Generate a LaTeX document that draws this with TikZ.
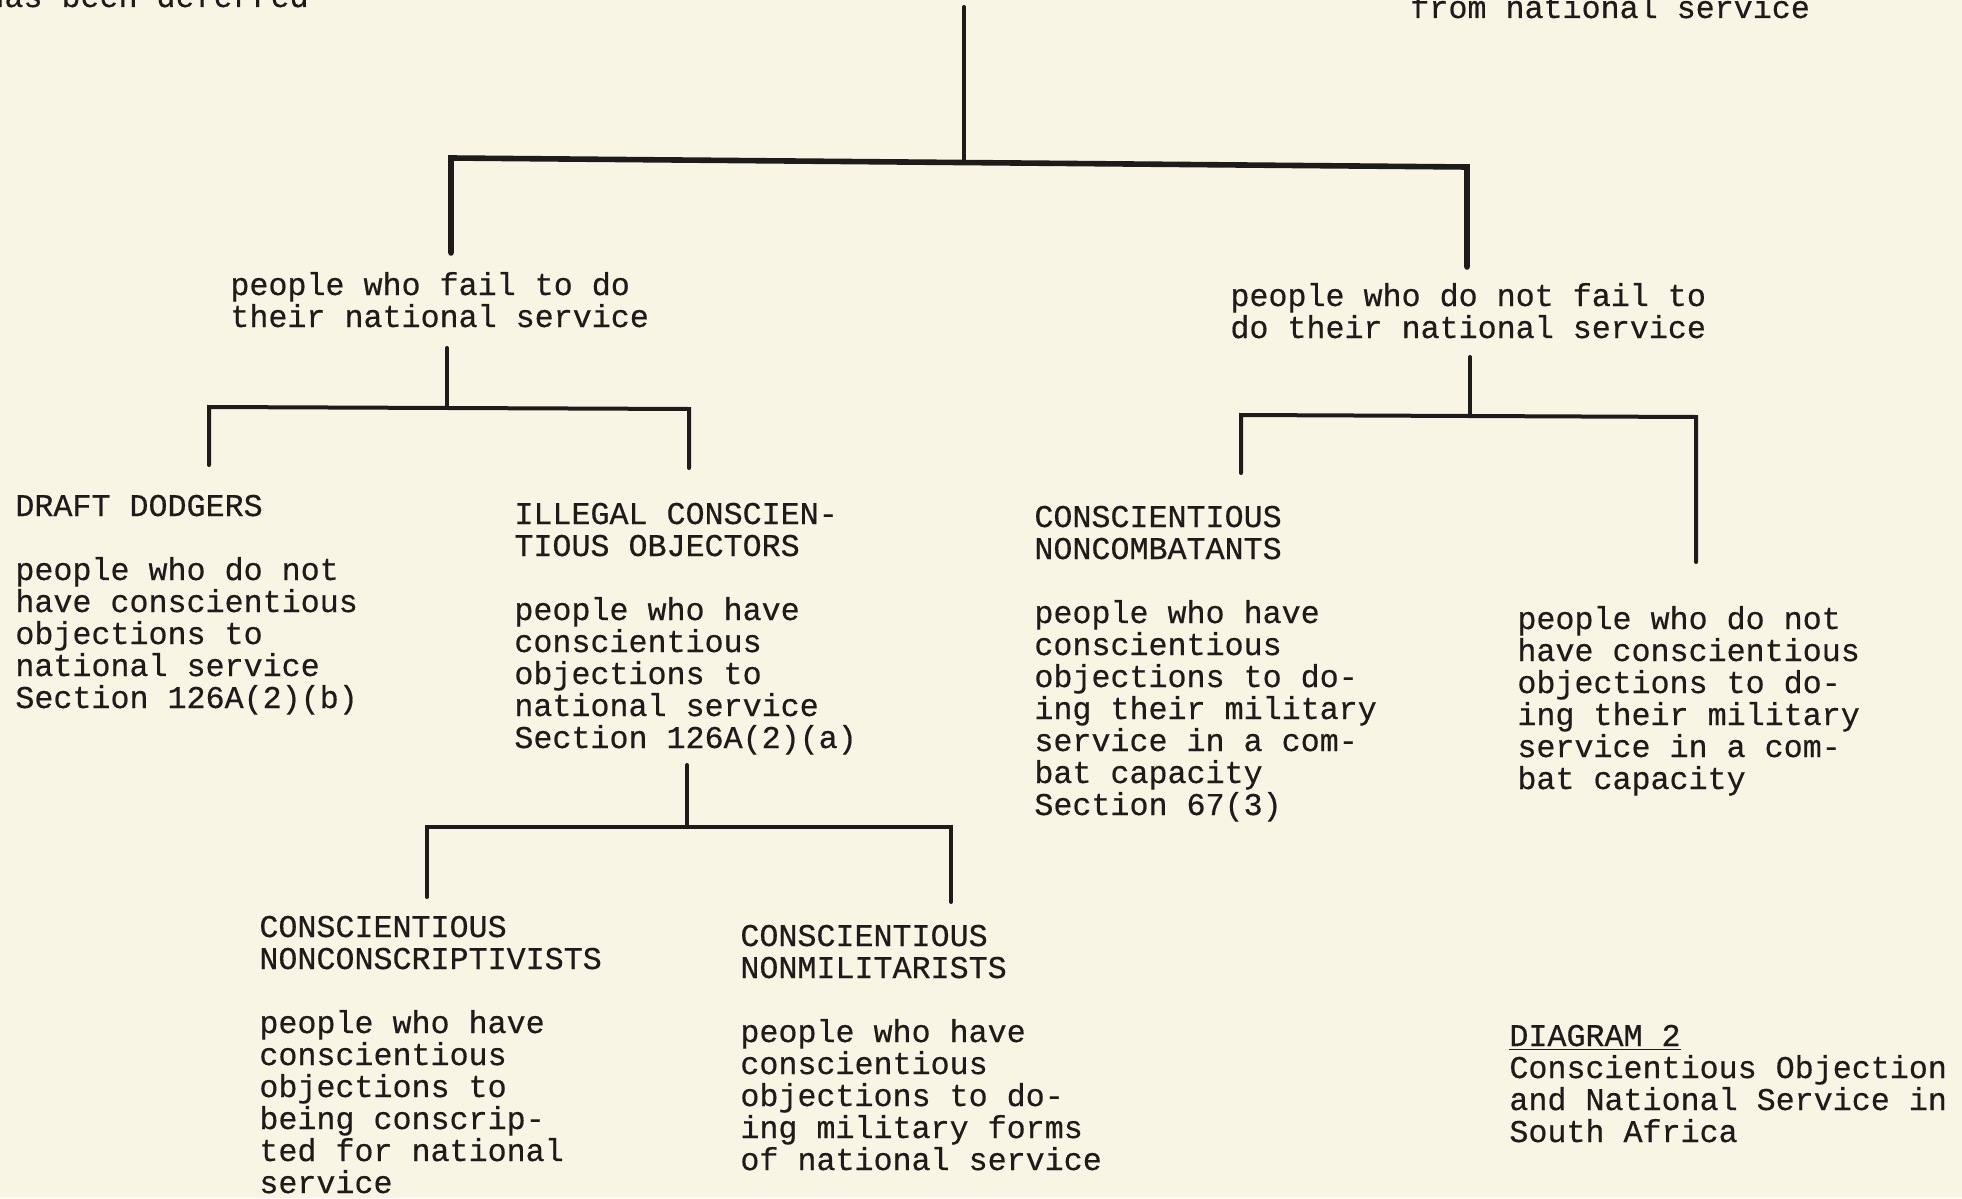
\documentclass[tikz,border=0pt]{standalone}
\usepackage{fontspec}
\newfontfamily\typewriter{Liberation Mono}[FakeBold=0.5]
\usetikzlibrary{positioning}
\definecolor{PaperCream}{RGB}{248,245,229}
\definecolor{TypeInk}{RGB}{30,28,26}

\tikzset{
  typed/.style={anchor=base west,inner sep=0pt,align=left,text=TypeInk,
    font=\typewriter\fontsize{15.85}{16}\selectfont},
  branch/.style={line width=2pt,draw=TypeInk,line cap=round},
  mainbar/.style={branch,line width=2.8pt},
}

\begin{document}
\begin{tikzpicture}[x=0.5pt,y=-0.5pt]
  \fill[PaperCream] (0,0) rectangle (1962,1198);
  \useasboundingbox (0,0) rectangle (1962,1198);

  % lines cut off at the top edge
  \node[typed] (deferred) at (-15,7) {has been deferred};
  \node[typed] (exempt) at (1410,18) {from national service};

  % second level (anchored at the last line)
  \node[typed] (fail) at (230,327) {people who fail to do\\their national service};
  \node[typed] (notfail) at (1230,338) {people who do not fail to\\do their national service};

  % third level
  \node[typed] (dodgers) at (15,708)
    {DRAFT DODGERS\\[16pt]people who do not\\have conscientious\\objections to\\national service\\Section 126A(2)(b)};
  \node[typed] (illegal) at (514,748)
    {ILLEGAL CONSCIEN-\\TIOUS OBJECTORS\\[16pt]people who have\\conscientious\\objections to\\national service\\Section 126A(2)(a)};
  \node[typed] (noncombat) at (1034,815)
    {CONSCIENTIOUS\\NONCOMBATANTS\\[16pt]people who have\\conscientious\\objections to do-\\ing their military\\service in a com-\\bat capacity\\Section 67(3)};
  \node[typed] (combat) at (1517,789)
    {people who do not\\have conscientious\\objections to do-\\ing their military\\service in a com-\\bat capacity};

  % fourth level
  \node[typed] (nonconscript) at (259,1193)
    {CONSCIENTIOUS\\NONCONSCRIPTIVISTS\\[16pt]people who have\\conscientious\\objections to\\being conscrip-\\ted for national\\service};
  \node[typed] (nonmilitary) at (740,1170)
    {CONSCIENTIOUS\\NONMILITARISTS\\[16pt]people who have\\conscientious\\objections to do-\\ing military forms\\of national service};

  % caption
  \node[typed] (caption) at (1509,1142)
    {\underline{DIAGRAM 2}\\Conscientious Objection\\and National Service in\\South Africa};

  % tree: root
  \coordinate (rootTop) at (964,7);
  \coordinate (rootJoin) at (964,162.5);
  \coordinate (barL) at (451,158);
  \coordinate (barR) at (1467,167);
  \coordinate (failEnd) at (451,253);
  \coordinate (notfailEnd) at (1467,267);
  \draw[branch] (rootTop) -- (rootJoin);
  \draw[mainbar] (failEnd) -- (barL) -- (barR) -- (notfailEnd);

  % tree: under fail
  \coordinate (failTop) at (447,348);
  \coordinate (failJoin) at (447,408);
  \coordinate (failL) at (209,407);
  \coordinate (failR) at (689,409);
  \coordinate (dodgersEnd) at (209,465);
  \coordinate (illegalEnd) at (689,468);
  \draw[branch] (failTop) -- (failJoin);
  \draw[branch] (dodgersEnd) -- (failL) -- (failR) -- (illegalEnd);

  % tree: under notfail
  \coordinate (notfailTop) at (1470,357);
  \coordinate (notfailJoin) at (1470,416);
  \coordinate (notfailL) at (1241,415);
  \coordinate (notfailR) at (1696,417);
  \coordinate (noncombatEnd) at (1241,473);
  \coordinate (combatEnd) at (1696,562);
  \draw[branch] (notfailTop) -- (notfailJoin);
  \draw[branch] (noncombatEnd) -- (notfailL) -- (notfailR) -- (combatEnd);

  % tree: under illegal
  \coordinate (illegalTop) at (687,765);
  \coordinate (illegalJoin) at (687,827);
  \coordinate (illegalL) at (427,827);
  \coordinate (illegalR) at (951,827);
  \coordinate (nonconscriptEnd) at (427,897);
  \coordinate (nonmilitaryEnd) at (951,902);
  \draw[branch] (illegalTop) -- (illegalJoin);
  \draw[branch] (nonconscriptEnd) -- (illegalL) -- (illegalR) -- (nonmilitaryEnd);
\end{tikzpicture}
\end{document}
